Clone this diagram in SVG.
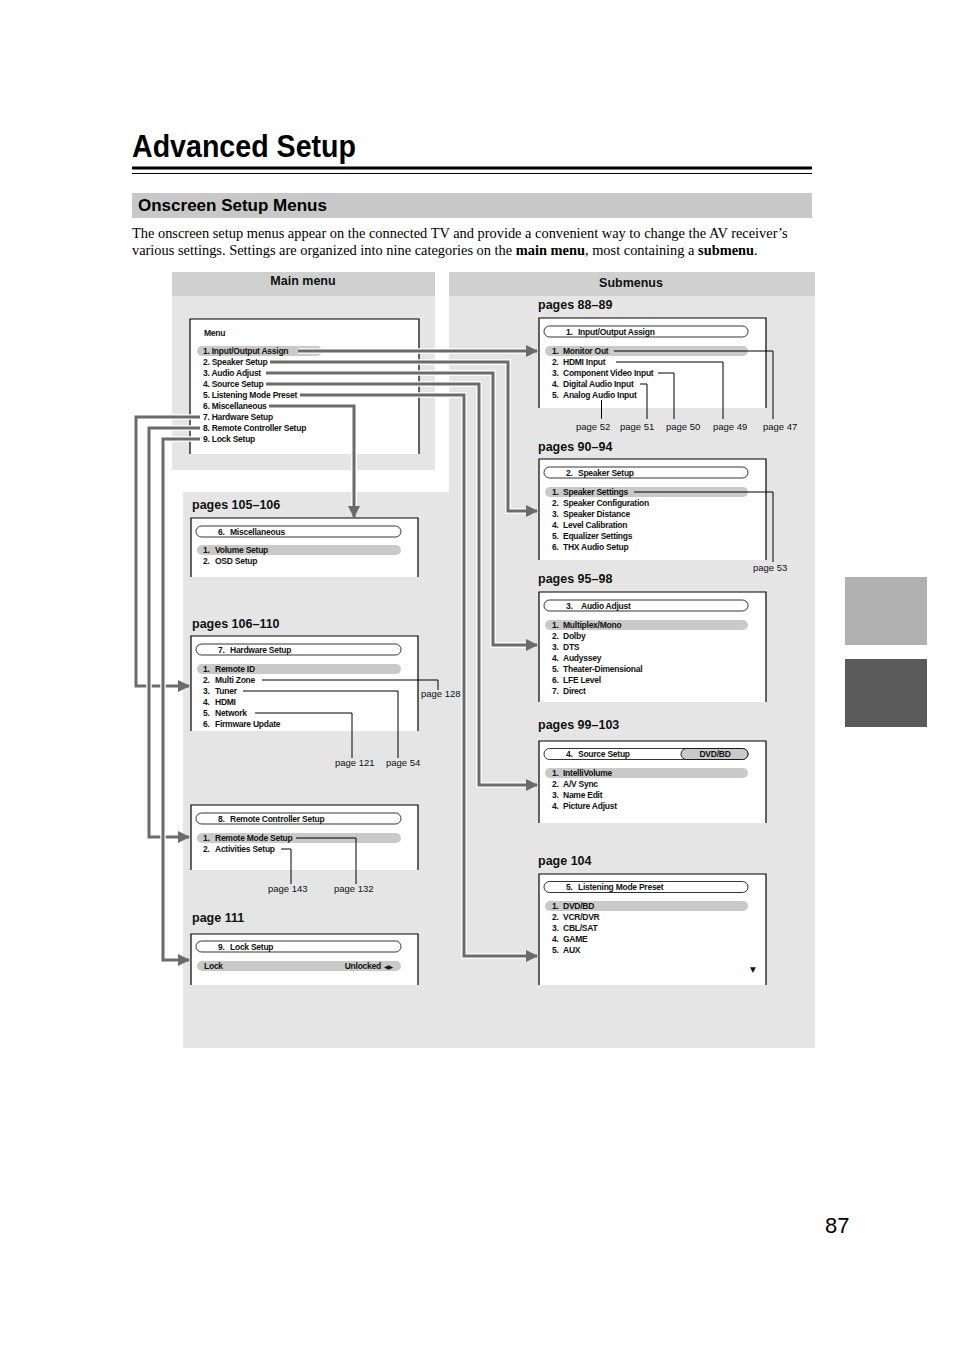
<svg xmlns="http://www.w3.org/2000/svg" width="954" height="1351" viewBox="0 0 954 1351">
<defs>
<style>
.m{font-family:"Liberation Sans Narrow","Liberation Sans",Arial,sans-serif;font-size:8.5px;font-weight:bold;letter-spacing:-0.25px;fill:#111}
.pg{font-family:"Liberation Sans",Arial,sans-serif;font-size:9.5px;fill:#111}
.lbl{font-family:"Liberation Sans",Arial,sans-serif;font-size:12.5px;font-weight:bold;fill:#111}
.panel{fill:#e5e5e5}
.phead{fill:#d0d0d0}
.scr{fill:#fff}
.bord{fill:none;stroke:#000;stroke-width:1.2}
.pill{fill:#fff;stroke:#000;stroke-width:0.8}
.hl{fill:#c9c9c9}
.case{fill:none;stroke:#fff;stroke-width:5.5}
.conn{fill:none;stroke:#6b6b6b;stroke-width:3}
.lead{fill:none;stroke:#000;stroke-width:1}
</style>
<marker id="ah" markerUnits="userSpaceOnUse" viewBox="0 0 12 12" markerWidth="12" markerHeight="12" refX="11" refY="6" orient="auto">
<path d="M0,0 L12,6 L0,12 z" fill="#6b6b6b"/>
</marker>
</defs>
<rect width="954" height="1351" fill="#fff"/>

<g id="page-header">
<text x="132" y="157" font-family="Liberation Sans, Arial, sans-serif" font-size="31" font-weight="bold" textLength="224" lengthAdjust="spacingAndGlyphs" fill="#000">Advanced Setup</text>
<line x1="132" y1="168" x2="812" y2="168" stroke="#000" stroke-width="3"/>
<line x1="132" y1="173.5" x2="812" y2="173.5" stroke="#000" stroke-width="1"/>
<rect x="132" y="193" width="680" height="25" fill="#c8c8c8"/>
<text x="138" y="211" font-family="Liberation Sans, Arial, sans-serif" font-size="17" font-weight="bold" fill="#000">Onscreen Setup Menus</text>
<text font-family="Liberation Serif, Times New Roman, serif" font-size="14.4" fill="#000"><tspan x="132" y="238">The onscreen setup menus appear on the connected TV and provide a convenient way to change the AV receiver’s</tspan><tspan x="132" y="255">various settings. Settings are organized into nine categories on the <tspan font-weight="bold">main menu</tspan>, most containing a <tspan font-weight="bold">submenu</tspan>.</tspan></text>
</g>

<g id="side-tabs">
<rect x="845" y="577" width="82" height="68" fill="#b0b0b0"/>
<rect x="845" y="659" width="82" height="68" fill="#5a5a5a"/>
<text x="825" y="1233" font-family="Liberation Sans, Arial, sans-serif" font-size="22" fill="#000">87</text>
</g>

<g id="panels">
<rect class="panel" x="172" y="272" width="263" height="198"/>
<rect class="phead" x="172" y="272" width="263" height="24"/>
<text class="lbl" x="303" y="285" text-anchor="middle">Main menu</text>
<rect class="panel" x="449" y="296" width="366" height="752"/>
<rect class="phead" x="449" y="272" width="366" height="24"/>
<text class="lbl" x="631" y="287" text-anchor="middle">Submenus</text>
<rect class="panel" x="183" y="492" width="266" height="556"/>
</g>

<g id="main-menu">
<rect class="scr" x="190" y="319" width="229" height="135"/>
<path class="bord" d="M190,454 V319 H419 V454"/>
<rect class="hl" x="197" y="346" width="125" height="10" rx="5"/>
<text class="m" x="204" y="336" font-weight="normal">Menu</text>
<text class="m" x="203" y="354">1. Input/Output Assign</text>
<text class="m" x="203" y="365">2. Speaker Setup</text>
<text class="m" x="203" y="376">3. Audio Adjust</text>
<text class="m" x="203" y="387">4. Source Setup</text>
<text class="m" x="203" y="398">5. Listening Mode Preset</text>
<text class="m" x="203" y="409">6. Miscellaneous</text>
<text class="m" x="203" y="420">7. Hardware Setup</text>
<text class="m" x="203" y="431">8. Remote Controller Setup</text>
<text class="m" x="203" y="442">9. Lock Setup</text>
</g>

<g id="sub-input-output">
<text class="lbl" x="538" y="309">pages 88–89</text>
<rect class="scr" x="539" y="318" width="227" height="90"/>
<path class="bord" d="M539,408 V318 H766 V408"/>
<rect class="pill" x="544" y="326" width="204" height="11" rx="5.5"/>
<text class="m" x="566" y="334.5">1.<tspan x="578">Input/Output Assign</tspan></text>
<rect class="hl" x="545" y="346" width="203" height="10" rx="5"/>
<text class="m" x="552" y="354">1.<tspan x="563">Monitor Out</tspan></text>
<text class="m" x="552" y="365">2.<tspan x="563">HDMI Input</tspan></text>
<text class="m" x="552" y="376">3.<tspan x="563">Component Video Input</tspan></text>
<text class="m" x="552" y="387">4.<tspan x="563">Digital Audio Input</tspan></text>
<text class="m" x="552" y="398">5.<tspan x="563">Analog Audio Input</tspan></text>
<path class="lead" d="M614,351 H773 V419 M616,362 H723 V419 M658,373 H674 V419 M640,384 H647 V419 M601.5,400 V419"/>
<text class="pg" x="576" y="430">page 52</text>
<text class="pg" x="620" y="430">page 51</text>
<text class="pg" x="666" y="430">page 50</text>
<text class="pg" x="713" y="430">page 49</text>
<text class="pg" x="763" y="430">page 47</text>
</g>

<g id="sub-speaker-setup">
<text class="lbl" x="538" y="451">pages 90–94</text>
<rect class="scr" x="539" y="459" width="227" height="101"/>
<path class="bord" d="M539,560 V459 H766 V560"/>
<rect class="pill" x="544" y="467" width="204" height="11" rx="5.5"/>
<text class="m" x="566" y="475.5">2.<tspan x="578">Speaker Setup</tspan></text>
<rect class="hl" x="545" y="487" width="203" height="10" rx="5"/>
<text class="m" x="552" y="495">1.<tspan x="563">Speaker Settings</tspan></text>
<text class="m" x="552" y="506">2.<tspan x="563">Speaker Configuration</tspan></text>
<text class="m" x="552" y="517">3.<tspan x="563">Speaker Distance</tspan></text>
<text class="m" x="552" y="528">4.<tspan x="563">Level Calibration</tspan></text>
<text class="m" x="552" y="539">5.<tspan x="563">Equalizer Settings</tspan></text>
<text class="m" x="552" y="550">6.<tspan x="563">THX Audio Setup</tspan></text>
<path class="lead" d="M634,492 H773 V562"/>
<text class="pg" x="753" y="571">page 53</text>
</g>

<g id="sub-audio-adjust">
<text class="lbl" x="538" y="583">pages 95–98</text>
<rect class="scr" x="539" y="592" width="227" height="110"/>
<path class="bord" d="M539,702 V592 H766 V702"/>
<rect class="pill" x="544" y="600" width="204" height="11" rx="5.5"/>
<text class="m" x="566" y="608.5">3.<tspan x="581">Audio Adjust</tspan></text>
<rect class="hl" x="545" y="620" width="203" height="10" rx="5"/>
<text class="m" x="552" y="628">1.<tspan x="563">Multiplex/Mono</tspan></text>
<text class="m" x="552" y="639">2.<tspan x="563">Dolby</tspan></text>
<text class="m" x="552" y="650">3.<tspan x="563">DTS</tspan></text>
<text class="m" x="552" y="661">4.<tspan x="563">Audyssey</tspan></text>
<text class="m" x="552" y="672">5.<tspan x="563">Theater-Dimensional</tspan></text>
<text class="m" x="552" y="683">6.<tspan x="563">LFE Level</tspan></text>
<text class="m" x="552" y="694">7.<tspan x="563">Direct</tspan></text>
</g>

<g id="sub-source-setup">
<text class="lbl" x="538" y="729">pages 99–103</text>
<rect class="scr" x="539" y="741" width="227" height="82"/>
<path class="bord" d="M539,823 V741 H766 V823"/>
<rect class="pill" x="544" y="748.5" width="204" height="11" rx="5.5"/>
<rect x="681" y="748.5" width="67" height="11" rx="5.5" fill="#c9c9c9" stroke="#000" stroke-width="0.8"/>
<text class="m" x="566" y="757">4.<tspan x="578">Source Setup</tspan></text>
<text class="m" x="715" y="757" text-anchor="middle">DVD/BD</text>
<rect class="hl" x="545" y="768" width="203" height="10" rx="5"/>
<text class="m" x="552" y="776">1.<tspan x="563">IntelliVolume</tspan></text>
<text class="m" x="552" y="787">2.<tspan x="563">A/V Sync</tspan></text>
<text class="m" x="552" y="798">3.<tspan x="563">Name Edit</tspan></text>
<text class="m" x="552" y="809">4.<tspan x="563">Picture Adjust</tspan></text>
</g>

<g id="sub-listening-mode">
<text class="lbl" x="538" y="865">page 104</text>
<rect class="scr" x="539" y="874" width="227" height="111"/>
<path class="bord" d="M539,985 V874 H766 V985"/>
<rect class="pill" x="544" y="881.5" width="204" height="11" rx="5.5"/>
<text class="m" x="566" y="890">5.<tspan x="578">Listening Mode Preset</tspan></text>
<rect class="hl" x="545" y="901" width="203" height="10" rx="5"/>
<text class="m" x="552" y="909">1.<tspan x="563">DVD/BD</tspan></text>
<text class="m" x="552" y="920">2.<tspan x="563">VCR/DVR</tspan></text>
<text class="m" x="552" y="931">3.<tspan x="563">CBL/SAT</tspan></text>
<text class="m" x="552" y="942">4.<tspan x="563">GAME</tspan></text>
<text class="m" x="552" y="953">5.<tspan x="563">AUX</tspan></text>
<text x="753" y="972" text-anchor="middle" font-family="DejaVu Sans, sans-serif" font-size="7.5" fill="#111">▼</text>
</g>

<g id="sub-miscellaneous">
<text class="lbl" x="192" y="509">pages 105–106</text>
<rect class="scr" x="191" y="518" width="227" height="59"/>
<path class="bord" d="M191,577 V518 H418 V577"/>
<rect class="pill" x="196" y="526" width="205" height="11" rx="5.5"/>
<text class="m" x="218" y="534.5">6.<tspan x="230">Miscellaneous</tspan></text>
<rect class="hl" x="197" y="545" width="204" height="10" rx="5"/>
<text class="m" x="203" y="553">1.<tspan x="215">Volume Setup</tspan></text>
<text class="m" x="203" y="564">2.<tspan x="215">OSD Setup</tspan></text>
</g>

<g id="sub-hardware-setup">
<text class="lbl" x="192" y="628">pages 106–110</text>
<rect class="scr" x="191" y="636" width="227" height="95"/>
<path class="bord" d="M191,731 V636 H418 V731"/>
<rect class="pill" x="196" y="644" width="205" height="11" rx="5.5"/>
<text class="m" x="218" y="652.5">7.<tspan x="230">Hardware Setup</tspan></text>
<rect class="hl" x="197" y="664" width="204" height="10" rx="5"/>
<text class="m" x="203" y="672">1.<tspan x="215">Remote ID</tspan></text>
<text class="m" x="203" y="683">2.<tspan x="215">Multi Zone</tspan></text>
<text class="m" x="203" y="694">3.<tspan x="215">Tuner</tspan></text>
<text class="m" x="203" y="705">4.<tspan x="215">HDMI</tspan></text>
<text class="m" x="203" y="716">5.<tspan x="215">Network</tspan></text>
<text class="m" x="203" y="727">6.<tspan x="215">Firmware Update</tspan></text>
<path class="lead" d="M262,680 H438 V690 M243,691 H398 V758 M255,713 H352 V758"/>
<text class="pg" x="421" y="697">page 128</text>
<text class="pg" x="386" y="766">page 54</text>
<text class="pg" x="335" y="766">page 121</text>
</g>

<g id="sub-remote-controller">
<rect class="scr" x="191" y="805" width="227" height="65"/>
<path class="bord" d="M191,870 V805 H418 V870"/>
<rect class="pill" x="196" y="813" width="205" height="11" rx="5.5"/>
<text class="m" x="218" y="821.5">8.<tspan x="230">Remote Controller Setup</tspan></text>
<rect class="hl" x="197" y="833" width="204" height="10" rx="5"/>
<text class="m" x="203" y="841">1.<tspan x="215">Remote Mode Setup</tspan></text>
<text class="m" x="203" y="852">2.<tspan x="215">Activities Setup</tspan></text>
<path class="lead" d="M296,838 H356 V884 M281,849 H291 V884"/>
<text class="pg" x="268" y="892">page 143</text>
<text class="pg" x="334" y="892">page 132</text>
</g>

<g id="sub-lock-setup">
<text class="lbl" x="192" y="922">page 111</text>
<rect class="scr" x="191" y="934" width="227" height="51"/>
<path class="bord" d="M191,985 V934 H418 V985"/>
<rect class="pill" x="196" y="941" width="205" height="11" rx="5.5"/>
<text class="m" x="218" y="949.5">9.<tspan x="230">Lock Setup</tspan></text>
<rect class="hl" x="197" y="961" width="204" height="10" rx="5"/>
<text class="m" x="204" y="969">Lock</text>
<text class="m" x="381" y="969" text-anchor="end">Unlocked</text>
<text x="384" y="969" font-family="DejaVu Sans, sans-serif" font-size="6" fill="#111">◀▶</text>
</g>

<g id="connectors">
<path class="case" d="M298,351 H526"/><path class="conn" d="M298,351 H537" marker-end="url(#ah)"/>
<path class="case" d="M270,362 H508 V511 H526"/><path class="conn" d="M270,362 H508 V511 H537" marker-end="url(#ah)"/>
<path class="case" d="M266,373 H493 V645 H526"/><path class="conn" d="M266,373 H493 V645 H537" marker-end="url(#ah)"/>
<path class="case" d="M266,384 H479 V785 H526"/><path class="conn" d="M266,384 H479 V785 H537" marker-end="url(#ah)"/>
<path class="case" d="M300,395 H464 V956 H526"/><path class="conn" d="M300,395 H464 V956 H537" marker-end="url(#ah)"/>
<path class="case" d="M269,406 H354 V506"/><path class="conn" d="M269,406 H354 V517" marker-end="url(#ah)"/>
<path class="case" d="M200,417 H136 V686 H178"/><path class="conn" d="M200,417 H136 V686 H189" marker-end="url(#ah)"/>
<path class="case" d="M200,428 H149 V837 H178"/><path class="conn" d="M200,428 H149 V837 H189" marker-end="url(#ah)"/>
<path class="case" d="M200,439 H163 V960 H178"/><path class="conn" d="M200,439 H163 V960 H189" marker-end="url(#ah)"/>
</g>
</svg>
